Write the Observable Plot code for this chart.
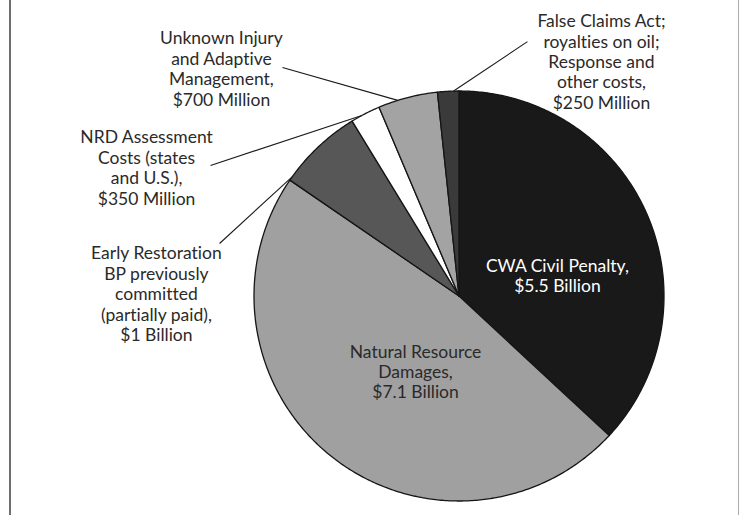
<!DOCTYPE html>
<html><head><meta charset="utf-8">
<script src="https://cdn.jsdelivr.net/npm/d3@7"></script>
<script src="https://cdn.jsdelivr.net/npm/@observablehq/plot@0.6"></script>
<style>
body{margin:0;background:#fff;}
#wrap{position:relative;width:739px;height:515px;overflow:hidden;background:#fff;}
#chart{position:absolute;left:0;top:0;}
#chart svg text{font-variant-ligatures:none;font-feature-settings:"liga" 0;}
#frame{position:absolute;left:9px;top:0;width:727px;height:515px;border-left:2px solid #6e6e6e;border-right:1px solid #ababab;pointer-events:none;}
</style></head><body>
<div id="wrap"><div id="chart"></div><div id="frame"></div></div>
<script>
// ---- data ----
const categories = ["CWA Civil Penalty", "Natural Resource Damages", "Early Restoration", "NRD Assessment Costs", "Unknown Injury and Adaptive Management", "False Claims Act; royalties; response and other costs"];
const valuesBillion = [5.5, 7.1, 1.0, 0.35, 0.7, 0.25];
const labelTexts = [
  "CWA Civil Penalty,\n$5.5 Billion",
  "Natural Resource\nDamages,\n$7.1 Billion",
  "Early Restoration\nBP previously\ncommitted\n(partially paid),\n$1 Billion",
  "NRD Assessment\nCosts (states\nand U.S.),\n$350 Million",
  "Unknown Injury\nand Adaptive\nManagement,\n$700 Million",
  "False Claims Act;\nroyalties on oil;\nResponse and\nother costs,\n$250 Million"
];

// ---- styles / layout (unit-circle coordinates) ----
const sliceFills = ["#191919", "#a0a0a0", "#575757", "#ffffff", "#a3a3a3", "#3a3a3a"];
const textFills = ["#ffffff", "#2a2a2a", "#2a2a2a", "#2a2a2a", "#2a2a2a", "#2a2a2a"];
const labelX = [0.480, -0.212, -1.476, -1.524, -1.159, 0.695];
const labelY = [0.100, -0.368, 0.012, 0.627, 1.110, 1.144];
const leaderFromX = [null, null, -1.168, -1.212, -0.861, 0.334];
const leaderFromY = [null, null, 0.256, 0.637, 1.115, 1.241];
const leaderAt = [null, null, 0.05, 0.37, 0.33, 0.75]; // position within slice

const rows = categories.map((c, i) => ({name: c, value: valuesBillion[i], i}));
const arcs = d3.pie().sort(null).value(d => d.value).startAngle(0).endAngle(2 * Math.PI)(rows);

const pts = [];
arcs.forEach(a => {
  const fill = sliceFills[a.data.i];
  pts.push({name: a.data.name, fill, x: 0, y: 0});
  const n = Math.max(2, Math.ceil((a.endAngle - a.startAngle) / 0.01) + 1);
  for (let k = 0; k < n; k++) {
    const t = a.startAngle + (a.endAngle - a.startAngle) * k / (n - 1);
    pts.push({name: a.data.name, fill, x: Math.sin(t), y: Math.cos(t)});
  }
  pts.push({name: a.data.name, fill, x: 0, y: 0});
});

const leaders = arcs.filter(a => leaderAt[a.data.i] != null).map(a => {
  const i = a.data.i;
  const t = a.startAngle + (a.endAngle - a.startAngle) * leaderAt[i];
  return {x1: leaderFromX[i], y1: leaderFromY[i], x2: Math.sin(t), y2: Math.cos(t)};
});

const labels = rows.map(r => ({text: labelTexts[r.i], x: labelX[r.i], y: labelY[r.i], color: textFills[r.i]}));

const chart = Plot.plot({
  width: 739, height: 515,
  marginLeft: 253.5, marginRight: 75.5, marginTop: 90.5, marginBottom: 14.5,
  x: {domain: [-1, 1], axis: null},
  y: {domain: [-1, 1], axis: null},
  color: {type: "identity"},
  style: {fontFamily: "Lato, 'Open Sans', sans-serif", fontSize: "17.5px", background: "#fff", overflow: "visible"},
  marks: [
    Plot.line(pts, {x: "x", y: "y", z: "name", fill: "fill", stroke: "#151515", strokeWidth: 1.3, strokeLinejoin: "round", curve: "linear"}),
    Plot.link(leaders, {x1: "x1", y1: "y1", x2: "x2", y2: "y2", stroke: "#1a1a1a", strokeWidth: 1.1}),
    Plot.text(labels, {x: "x", y: "y", text: "text", fill: "color", fontSize: 17.5, lineHeight: 1.17, textAnchor: "middle", lineAnchor: "middle"})
  ]
});
document.getElementById("chart").appendChild(chart);
</script>
</body></html>
